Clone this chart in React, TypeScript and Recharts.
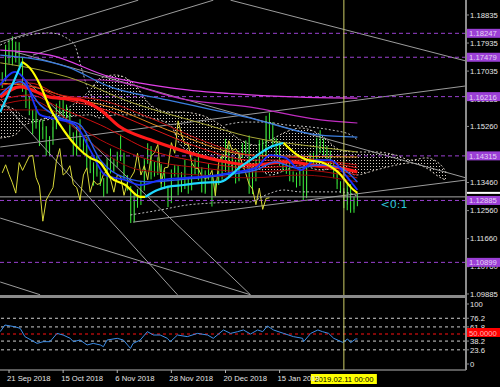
import React from 'react';
import { ComposedChart, Line, Bar, Area, XAxis, YAxis, ReferenceLine, ReferenceDot } from 'recharts';

const FONT = '"Liberation Sans", Arial, sans-serif';

// Daily candles EURUSD [open, high, low, close], 19 Sep 2018 .. 15 Feb 2019
const candles: [number, number, number, number][] = [
  [1.1668, 1.1700, 1.1650, 1.1672], [1.1672, 1.1788, 1.1670, 1.1778], [1.1778, 1.1803, 1.1727, 1.1747],
  [1.1747, 1.1815, 1.1722, 1.1748], [1.1748, 1.1798, 1.1731, 1.1770], [1.1770, 1.1796, 1.1717, 1.1738],
  [1.1738, 1.1749, 1.1637, 1.1640], [1.1640, 1.1652, 1.1585, 1.1604], [1.1604, 1.1622, 1.1562, 1.1576],
  [1.1576, 1.1579, 1.1500, 1.1548], [1.1548, 1.1591, 1.1519, 1.1538], [1.1538, 1.1546, 1.1463, 1.1515],
  [1.1515, 1.1548, 1.1485, 1.1524], [1.1524, 1.1527, 1.1432, 1.1490], [1.1490, 1.1495, 1.1431, 1.1490],
  [1.1490, 1.1548, 1.1467, 1.1525], [1.1525, 1.1599, 1.1517, 1.1593], [1.1593, 1.1609, 1.1558, 1.1560],
  [1.1560, 1.1621, 1.1555, 1.1580], [1.1580, 1.1596, 1.1541, 1.1578], [1.1578, 1.1582, 1.1493, 1.1500],
  [1.1500, 1.1507, 1.1432, 1.1452], [1.1452, 1.1528, 1.1432, 1.1513], [1.1513, 1.1549, 1.1458, 1.1465],
  [1.1465, 1.1497, 1.1435, 1.1470], [1.1470, 1.1491, 1.1387, 1.1390], [1.1390, 1.1431, 1.1376, 1.1377],
  [1.1377, 1.1411, 1.1336, 1.1403], [1.1403, 1.1433, 1.1365, 1.1372], [1.1372, 1.1382, 1.1335, 1.1345],
  [1.1345, 1.1360, 1.1300, 1.1312], [1.1312, 1.1424, 1.1310, 1.1410], [1.1410, 1.1455, 1.1375, 1.1385],
  [1.1385, 1.1423, 1.1380, 1.1408], [1.1408, 1.1445, 1.1395, 1.1430], [1.1430, 1.1500, 1.1415, 1.1433],
  [1.1433, 1.1442, 1.1355, 1.1362], [1.1362, 1.1370, 1.1320, 1.1335], [1.1335, 1.1335, 1.1216, 1.1222],
  [1.1222, 1.1308, 1.1218, 1.1290], [1.1290, 1.1325, 1.1265, 1.1310], [1.1310, 1.1351, 1.1274, 1.1330],
  [1.1330, 1.1423, 1.1320, 1.1415], [1.1415, 1.1472, 1.1406, 1.1455], [1.1455, 1.1463, 1.1356, 1.1370],
  [1.1370, 1.1412, 1.1365, 1.1380], [1.1380, 1.1427, 1.1370, 1.1400], [1.1400, 1.1405, 1.1325, 1.1340],
  [1.1340, 1.1385, 1.1325, 1.1330], [1.1330, 1.1336, 1.1267, 1.1290], [1.1290, 1.1388, 1.1280, 1.1370],
  [1.1370, 1.1402, 1.1365, 1.1393], [1.1393, 1.1401, 1.1305, 1.1315], [1.1315, 1.1380, 1.1315, 1.1352],
  [1.1352, 1.1419, 1.1325, 1.1340], [1.1340, 1.1358, 1.1310, 1.1343], [1.1343, 1.1408, 1.1321, 1.1375],
  [1.1375, 1.1423, 1.1370, 1.1380], [1.1380, 1.1443, 1.1353, 1.1357], [1.1357, 1.1395, 1.1314, 1.1315],
  [1.1315, 1.1385, 1.1310, 1.1370], [1.1370, 1.1405, 1.1355, 1.1365], [1.1365, 1.1369, 1.1269, 1.1305],
  [1.1305, 1.1353, 1.1302, 1.1345], [1.1345, 1.1383, 1.1338, 1.1362], [1.1362, 1.1439, 1.1355, 1.1380],
  [1.1380, 1.1486, 1.1380, 1.1440], [1.1440, 1.1469, 1.1360, 1.1370], [1.1370, 1.1430, 1.1370, 1.1400],
  [1.1400, 1.1419, 1.1343, 1.1355], [1.1355, 1.1447, 1.1350, 1.1430], [1.1430, 1.1473, 1.1425, 1.1442],
  [1.1442, 1.1481, 1.1430, 1.1468], [1.1468, 1.1497, 1.1310, 1.1343], [1.1343, 1.1408, 1.1309, 1.1393],
  [1.1393, 1.1420, 1.1350, 1.1395], [1.1395, 1.1483, 1.1390, 1.1474], [1.1474, 1.1485, 1.1423, 1.1440],
  [1.1440, 1.1560, 1.1430, 1.1544], [1.1544, 1.1570, 1.1484, 1.1500], [1.1500, 1.1540, 1.1465, 1.1468],
  [1.1468, 1.1488, 1.1433, 1.1470], [1.1470, 1.1479, 1.1400, 1.1410], [1.1410, 1.1418, 1.1380, 1.1393],
  [1.1393, 1.1413, 1.1374, 1.1390], [1.1390, 1.1405, 1.1350, 1.1365], [1.1365, 1.1382, 1.1347, 1.1360],
  [1.1360, 1.1378, 1.1330, 1.1362], [1.1362, 1.1392, 1.1335, 1.1385], [1.1385, 1.1397, 1.1289, 1.1304],
  [1.1304, 1.1418, 1.1296, 1.1410], [1.1410, 1.1441, 1.1398, 1.1430], [1.1430, 1.1442, 1.1402, 1.1432],
  [1.1432, 1.1490, 1.1411, 1.1480], [1.1480, 1.1514, 1.1440, 1.1448], [1.1448, 1.1488, 1.1433, 1.1455],
  [1.1455, 1.1464, 1.1422, 1.1437], [1.1437, 1.1448, 1.1398, 1.1405], [1.1405, 1.1414, 1.1360, 1.1375],
  [1.1375, 1.1385, 1.1325, 1.1340], [1.1340, 1.1350, 1.1312, 1.1325], [1.1325, 1.1328, 1.1264, 1.1275],
  [1.1275, 1.1342, 1.1257, 1.1328], [1.1328, 1.1341, 1.1249, 1.1260], [1.1260, 1.1300, 1.1249, 1.1295],
  [1.1295, 1.1311, 1.1270, 1.1297],
];

const chikouShift = 26;

// Moving averages: [bar index, price]
const maMagentaA: [number, number][] = [[-0.6, 1.1771], [14.1, 1.1755], [31.9, 1.1685], [40.8, 1.1665], [54.7, 1.1643], [73.4, 1.1627], [88.2, 1.1620], [105, 1.1617]];
const maMagentaB: [number, number][] = [[-0.6, 1.1675], [29, 1.1675], [54.7, 1.1611], [73.4, 1.1588], [94.1, 1.1547], [105, 1.1537]];
const maSteel: [number, number][] = [[-0.6, 1.1755], [19.2, 1.1717], [31.9, 1.1653], [48.8, 1.1611], [73.4, 1.1553], [93.3, 1.1499], [105, 1.1492]];
const maOlive: [number, number][] = [[-0.6, 1.1730], [11.2, 1.1707], [19.2, 1.1685], [38.7, 1.1601], [58.6, 1.1537], [73.4, 1.1492], [93.3, 1.1460], [105, 1.1444]];
const maOrange: [number, number][] = [[-0.6, 1.1665], [9.1, 1.1653], [19.2, 1.1620], [31.9, 1.1588], [48.8, 1.1515], [73.4, 1.1434], [105, 1.1428]];
const maRed1: [number, number][] = [[-0.6, 1.1659], [8.2, 1.1665], [17.1, 1.1627], [29, 1.1611], [43.8, 1.1553], [58.6, 1.1483], [73.4, 1.1434], [88.2, 1.1425], [105, 1.1402]];
const maRed2: [number, number][] = [[-0.6, 1.1643], [8.2, 1.1656], [17.1, 1.1617], [29, 1.1585], [43.8, 1.1521], [58.6, 1.1457], [73.4, 1.1418], [88.2, 1.1418], [105, 1.1393]];
const maRed3: [number, number][] = [[-0.6, 1.1620], [5.3, 1.1653], [14.1, 1.1620], [23, 1.1611], [29, 1.1579], [34.9, 1.1524], [43.8, 1.1483], [52.7, 1.1450], [63.6, 1.1418], [73.4, 1.1402], [84.4, 1.1412], [92.1, 1.1402], [98, 1.1396], [105, 1.1380]];
const maRed4: [number, number][] = [[-0.6, 1.1611], [8.2, 1.1627], [17.1, 1.1585], [29, 1.1531], [43.8, 1.1450], [58.6, 1.1412], [73.4, 1.1393], [88.2, 1.1399], [105, 1.1370]];
const maRed5: [number, number][] = [[-0.6, 1.1595], [8.2, 1.1611], [17.1, 1.1563], [29, 1.1483], [43.8, 1.1418], [58.6, 1.1393], [73.4, 1.1380], [88.2, 1.1386], [105, 1.1361]];
const maRed6: [number, number][] = [[-0.6, 1.1579], [11.2, 1.1579], [20.1, 1.1531], [29, 1.1450], [40.8, 1.1386], [58.6, 1.1370], [73.4, 1.1361], [88.2, 1.1370], [105, 1.1348]];
const maBlue1: [number, number][] = [[-0.6, 1.1659], [3.8, 1.1701], [6.7, 1.1675], [11.2, 1.1563], [17.1, 1.1547], [21.6, 1.1531], [26, 1.1450], [30.4, 1.1370], [36.4, 1.1354], [40.8, 1.1338], [46.7, 1.1354], [54.1, 1.1361], [61.6, 1.1367], [69, 1.1380], [74.9, 1.1393], [79.3, 1.1434], [83.8, 1.1425], [88.2, 1.1386], [92.7, 1.1418], [97.1, 1.1418], [101.5, 1.1370], [105, 1.1322]];
const maBlue2: [number, number][] = [[-0.6, 1.1627], [5.3, 1.1669], [11.2, 1.1595], [17.1, 1.1553], [23, 1.1531], [29, 1.1418], [36.4, 1.1361], [43.8, 1.1348], [51.2, 1.1354], [58.6, 1.1361], [67.5, 1.1373], [74.9, 1.1386], [80.8, 1.1412], [86.7, 1.1393], [94.1, 1.1402], [100, 1.1393], [105, 1.1348]];
const trendCyan1: [number, number][] = [[-0.6, 1.1572], [2.3, 1.1643], [5.9, 1.1733]];
const trendYellow1: [number, number][] = [[5.9, 1.1733], [8.2, 1.1713], [11.2, 1.1659], [14.1, 1.1585], [17.1, 1.1531], [21.6, 1.1466], [26, 1.1425], [29, 1.1409], [31.9, 1.1364], [36.4, 1.1338], [40.8, 1.1300], [42.3, 1.1300]];
const trendCyan2: [number, number][] = [[42.3, 1.1300], [45.9, 1.1322], [48.8, 1.1332], [53.6, 1.1338], [58.6, 1.1345], [64.5, 1.1348], [70.4, 1.1396], [74.3, 1.1425], [79.3, 1.1460], [83.2, 1.1473]];
const trendYellow2: [number, number][] = [[83.2, 1.1473], [87.3, 1.1434], [90.3, 1.1418], [94.1, 1.1412], [99.2, 1.1380], [103.9, 1.1322], [105, 1.1313]];
const bandUpperA: [number, number][] = [[-0.6, 1.1787], [5.3, 1.1813], [14.1, 1.1826], [21, 1.1794], [23.6, 1.1707], [25.4, 1.1643], [27.5, 1.1611]];
const bandUpperB: [number, number][] = [[66, 1.1531], [71.9, 1.1540], [77.3, 1.1540], [83.8, 1.1531], [91.2, 1.1524], [97.1, 1.1515], [103, 1.1499], [105, 1.1483]];
const bandLower: [number, number][] = [[37.9, 1.1242], [46.7, 1.1258], [54.7, 1.1274], [61.6, 1.1280], [73.4, 1.1284], [77.9, 1.1306], [83.2, 1.1322], [88.2, 1.1316], [100, 1.1316], [105, 1.1303]];

// Ichimoku cloud: [bar index, upper, lower]
const cloud: [number, number, number][] = [
  [-0.6, 1.1595, 1.1489], [3.8, 1.1579, 1.1499], [6.7, 1.1553, 1.1531], [9.7, 1.1547, 1.1540], [17.1, 1.1572, 1.1553],
  [26, 1.1643, 1.1563], [29, 1.1681, 1.1553], [33.4, 1.1691, 1.1563], [39.3, 1.1659, 1.1563], [43.8, 1.1595, 1.1553],
  [49.7, 1.1572, 1.1531], [52.7, 1.1572, 1.1466], [58.6, 1.1563, 1.1434], [64.5, 1.1531, 1.1418], [70.4, 1.1483, 1.1393],
  [74.9, 1.1466, 1.1393], [79.3, 1.1483, 1.1370], [83.8, 1.1508, 1.1386], [88.2, 1.1521, 1.1402], [94.1, 1.1499, 1.1386],
  [100, 1.1450, 1.1393], [104.5, 1.1444, 1.1370], [110.4, 1.1444, 1.1386], [116.4, 1.1434, 1.1402], [120.8, 1.1418, 1.1409],
  [125.3, 1.1425, 1.1393], [129.7, 1.1402, 1.1361], [131.2, 1.1380, 1.1354],
];

// Trend lines: [index1, price1, index2, price2]
const trendLines: [number, number, number, number][] = [
  [-0.6, 1.1797, 40.2, 1.1931], [9.1, 1.1755, 62.4, 1.1931], [67.5, 1.1931, 137.1, 1.1736],
  [-0.6, 1.1460, 137.1, 1.1656], [3.8, 1.1765, 137.1, 1.1361], [38.7, 1.1219, 137.1, 1.1354],
  [-0.6, 1.1232, 73.4, 1.0986], [-0.6, 1.1027, 11.2, 1.0986], [-0.6, 1.1614, 51.8, 1.0986],
  [5.3, 1.1691, 73.4, 1.0986],
];

const priceTicks = [1.18835, 1.17935, 1.17035, 1.16135, 1.1526, 1.1346, 1.1256, 1.1166, 1.1076, 1.09885];
const levelPrices = [1.18247, 1.17479, 1.16216, 1.14315, 1.12885, 1.10899];
const bidPrice = 1.13;
const signalIdx = 112;
const signalPrice = 1.1277;
const signalText = '<0:1';

const rsi: [number, number][] = [
  [-0.6, 53.9], [0.8, 65], [3.8, 62], [5.3, 59.4], [6.7, 45.6], [10.3, 34.4], [12.1, 37.2], [14.1, 37.2], [16.2, 51], [18, 48.3],
  [20.1, 42.8], [21, 37.2], [23, 40], [25.1, 31.7], [26.9, 34.4], [29, 31.7], [29.9, 28.9], [31, 40], [34, 42.8], [35.8, 40],
  [37.9, 26], [38.7, 34.4], [40.8, 40], [42.9, 53.9], [44.7, 48.3], [46.7, 48.3], [48.8, 42.8], [49.7, 37.2], [51.8, 48.3],
  [54.7, 45.6], [57.7, 51], [60.7, 48.3], [62.4, 42.8], [65.4, 56.7], [67.5, 51], [69.6, 53.9], [71.3, 56.7], [73.4, 50],
  [75.5, 56.7], [77, 53.9], [78.4, 63.3], [80.2, 56.7], [83.2, 51], [86.1, 45.6], [88.8, 42.8], [89.1, 37.2], [91.2, 51],
  [93.3, 56.7], [94.7, 53.9], [96.5, 51], [98, 42.8], [100.7, 36], [102.1, 41.7], [103, 35.6], [104.5, 41.7], [105, 41.7],
];
const rsiTicks = [0, 23.6, 38.2, 61.8, 76.2, 100];
const rsiLevels = [23.6, 38.2, 61.8, 76.2];
const rsiMid = 50;

const dateTickIdx = [2, 18, 34, 50, 66, 82];
const dateTickLabels = ['21 Sep 2018', '15 Oct 2018', '6 Nov 2018', '28 Nov 2018', '20 Dec 2018', '15 Jan 2019'];
const cursorIdx = 101;
const cursorLabel = '2019.02.11 00:00';

const X_DOMAIN: [number, number] = [-0.667, 137.111];
const P_DOMAIN: [number, number] = [1.0982, 1.19316];

const rows = candles.map((c, i) => ({ i, o: c[0], h: c[1], l: c[2], c: c[3] }));
const chikou = candles.slice(chikouShift).map((c, k) => ({ i: k, v: c[3] }));
const pts = (a: [number, number][]) => a.map(([i, v]) => ({ i, v }));
const cloudRows = cloud.map(([i, a, b]) => ({ i, r: [b, a] }));

const lines = [
  { d: maMagentaA, color: '#e040e8', w: 1.2 },
  { d: maMagentaB, color: '#c02cc0', w: 1.2 },
  { d: maSteel, color: '#3a7ee0', w: 1.3 },
  { d: maOlive, color: '#a8a838', w: 1 },
  { d: maOrange, color: '#e88a20', w: 1 },
  { d: maRed6, color: '#900808', w: 1 },
  { d: maRed5, color: '#b00c0c', w: 1 },
  { d: maRed4, color: '#d01010', w: 1 },
  { d: maRed1, color: '#c81414', w: 1 },
  { d: maRed2, color: '#e01818', w: 1 },
  { d: maRed3, color: '#ff1a1a', w: 3.2 },
  { d: maBlue2, color: '#2a5cf0', w: 1.5 },
  { d: maBlue1, color: '#1a30ff', w: 1.8 },
  { d: trendCyan1, color: '#20d8ff', w: 2.2 },
  { d: trendYellow1, color: '#ffff00', w: 2.2 },
  { d: trendCyan2, color: '#20d8ff', w: 2.2 },
  { d: trendYellow2, color: '#ffff00', w: 2.2 },
];

const bands = [bandUpperA, bandUpperB, bandLower];

function Candle(props: any) {
  const { x, y, width, height, payload } = props;
  if (!payload || height == null) return null;
  const { o, h, l, c } = payload;
  const k = h - l > 0 ? height / (h - l) : 0;
  const cx = x + width / 2;
  const top = y + (h - Math.max(o, c)) * k;
  const bh = Math.max(1, Math.abs(o - c) * k);
  return (
    <g>
      <line x1={cx} x2={cx} y1={y} y2={y + height} stroke="#3cf03c" strokeWidth={1} />
      <rect x={x} y={top} width={width} height={bh} fill={c >= o ? '#6cff6c' : '#34d834'} />
    </g>
  );
}

function PriceTick(props: any) {
  const { x, y, payload } = props;
  const v = Number(payload.value);
  if (levelPrices.indexOf(v) >= 0) {
    return (
      <g>
        <rect x={x - 3} y={y - 4.5} width={34} height={9} fill="#9b3fd6" />
        <text x={x - 1} y={y + 3} fill="#e4d2f4" fontSize={7.7} fontFamily={FONT}>{v.toFixed(5)}</text>
      </g>
    );
  }
  if (v === bidPrice) {
    return <rect x={x - 3} y={y - 5} width={34} height={2} fill="#ffffff" />;
  }
  return (
    <text x={x} y={y + 2.8} fill="#e6e6e6" fontSize={7.7} fontFamily={FONT} textAnchor="start">
      {v.toFixed(5)}
    </text>
  );
}

function RsiTick(props: any) {
  const { x, y, payload } = props;
  const v = Number(payload.value);
  if (v === rsiMid) {
    return (
      <g>
        <rect x={x - 3} y={y - 6} width={34} height={9} fill="#ff0000" />
        <text x={x - 1} y={y + 1.5} fill="#ffb4b4" fontSize={7.7} fontFamily={FONT}>{v.toFixed(4)}</text>
      </g>
    );
  }
  return (
    <text x={x} y={y + 2.8} fill="#e6e6e6" fontSize={7.7} fontFamily={FONT} textAnchor="start">
      {String(v)}
    </text>
  );
}

function DateTick(props: any) {
  const { x, y, payload } = props;
  const k = dateTickIdx.indexOf(payload.value);
  return (
    <text x={x - 2} y={y + 6} fill="#e6e6e6" fontSize={7.7} fontFamily={FONT} textAnchor="start">
      {k >= 0 ? dateTickLabels[k] : ''}
    </text>
  );
}

function CursorTag(props: any) {
  const { viewBox } = props;
  if (!viewBox) return null;
  const x = viewBox.x;
  const y = viewBox.y + viewBox.height + 4;
  return (
    <g>
      <rect x={x - 33} y={y} width={66} height={10} fill="#ffff00" />
      <text x={x} y={y + 7.6} fill="#000" fontSize={7.7} fontFamily={FONT} textAnchor="middle">{cursorLabel}</text>
    </g>
  );
}

function SignalTag(props: any) {
  const { viewBox } = props;
  if (!viewBox) return null;
  return (
    <text x={viewBox.x} y={viewBox.y + 4} fill="#2ec4d6" fontSize={11} fontFamily='"DejaVu Sans", sans-serif'>{signalText}</text>
  );
}

export default function App() {
  return (
    <div style={{ position: 'absolute', left: 0, top: 0, width: 500, height: 387, background: '#000', overflow: 'hidden' }}>
      <div style={{ position: 'absolute', left: 0, top: 0 }}>
        <ComposedChart width={500} height={300} data={rows} margin={{ top: 0, right: 0, bottom: 4, left: 0 }}>
          <defs>
            <pattern id="cloudDots" width={3} height={3} patternUnits="userSpaceOnUse">
              <rect x={1} y={1} width={1} height={1} fill="#d6cfc6" />
            </pattern>
          </defs>
          <XAxis type="number" dataKey="i" domain={X_DOMAIN} allowDataOverflow hide />
          <YAxis
            orientation="right"
            width={34}
            domain={P_DOMAIN}
            allowDataOverflow
            ticks={[...priceTicks, bidPrice, ...levelPrices]}
            interval={0}
            axisLine={{ stroke: '#8c8c8c', strokeWidth: 2 }}
            tickLine={{ stroke: '#8c8c8c' }}
            tickSize={3}
            tickMargin={1}
            tick={<PriceTick />}
          />
          <Area
            data={cloudRows}
            dataKey="r"
            type="monotone"
            fill="url(#cloudDots)"
            fillOpacity={1}
            stroke="#cfc6bc"
            strokeDasharray="2 2"
            strokeWidth={1}
            isAnimationActive={false}
            dot={false}
            activeDot={false}
          />
          {trendLines.map((t, k) => (
            <ReferenceLine
              key={'t' + k}
              segment={[{ x: t[0], y: t[1] }, { x: t[2], y: t[3] }]}
              stroke="#9c9c9c"
              strokeWidth={1}
              ifOverflow="visible"
            />
          ))}
          <ReferenceLine y={bidPrice} stroke="#a8a8a8" strokeWidth={1} />
          {levelPrices.map((p) => (
            <ReferenceLine key={'lv' + p} y={p} stroke="#9a40d0" strokeDasharray="4 3" strokeWidth={1} />
          ))}
          <Line data={chikou} dataKey="v" type="linear" stroke="#d8d838" strokeWidth={1} dot={false} activeDot={false} isAnimationActive={false} />
          <Bar dataKey={(d: any) => [d.l, d.h]} barSize={3} shape={<Candle />} isAnimationActive={false} />
          {bands.map((b, k) => (
            <Line key={'b' + k} data={pts(b)} dataKey="v" type="monotone" stroke="#bdbdbd" strokeWidth={1} strokeDasharray="2 2" dot={false} activeDot={false} isAnimationActive={false} />
          ))}
          {lines.map((l, k) => (
            <Line key={'m' + k} data={pts(l.d)} dataKey="v" type="monotone" stroke={l.color} strokeWidth={l.w} dot={false} activeDot={false} isAnimationActive={false} />
          ))}
          <ReferenceLine x={cursorIdx} stroke="#cccc66" strokeWidth={1} />
          <ReferenceDot x={signalIdx} y={signalPrice} r={0.5} fill="none" stroke="none" label={<SignalTag />} />
        </ComposedChart>
      </div>
      <div style={{ position: 'absolute', left: 0, top: 295, width: 467, height: 3, background: '#8a8a8a' }} />
      <div style={{ position: 'absolute', left: 0, top: 298 }}>
        <ComposedChart width={500} height={89} data={pts(rsi)} margin={{ top: 0, right: 0, bottom: 0, left: 0 }}>
          <XAxis
            type="number"
            dataKey="i"
            domain={X_DOMAIN}
            allowDataOverflow
            ticks={dateTickIdx}
            interval={0}
            height={17}
            axisLine={{ stroke: '#b4b4b4' }}
            tickLine={{ stroke: '#b4b4b4' }}
            tickSize={3}
            tickMargin={2}
            tick={<DateTick />}
          />
          <YAxis
            orientation="right"
            width={34}
            domain={[-10, 110]}
            allowDataOverflow
            ticks={[...rsiTicks, rsiMid]}
            interval={0}
            axisLine={{ stroke: '#8c8c8c', strokeWidth: 2 }}
            tickLine={{ stroke: '#8c8c8c' }}
            tickSize={3}
            tickMargin={1}
            tick={<RsiTick />}
          />
          {rsiLevels.map((v) => (
            <ReferenceLine key={'r' + v} y={v} stroke="#cfcfcf" strokeDasharray="3 3" strokeWidth={1} />
          ))}
          <ReferenceLine y={rsiMid} stroke="#ff1010" strokeDasharray="3 3" strokeWidth={1} />
          <Line dataKey="v" type="linear" stroke="#3d8ee8" strokeWidth={1} dot={false} activeDot={false} isAnimationActive={false} />
          <ReferenceLine x={cursorIdx} stroke="#cccc66" strokeWidth={1} label={<CursorTag />} />
        </ComposedChart>
      </div>
    </div>
  );
}
